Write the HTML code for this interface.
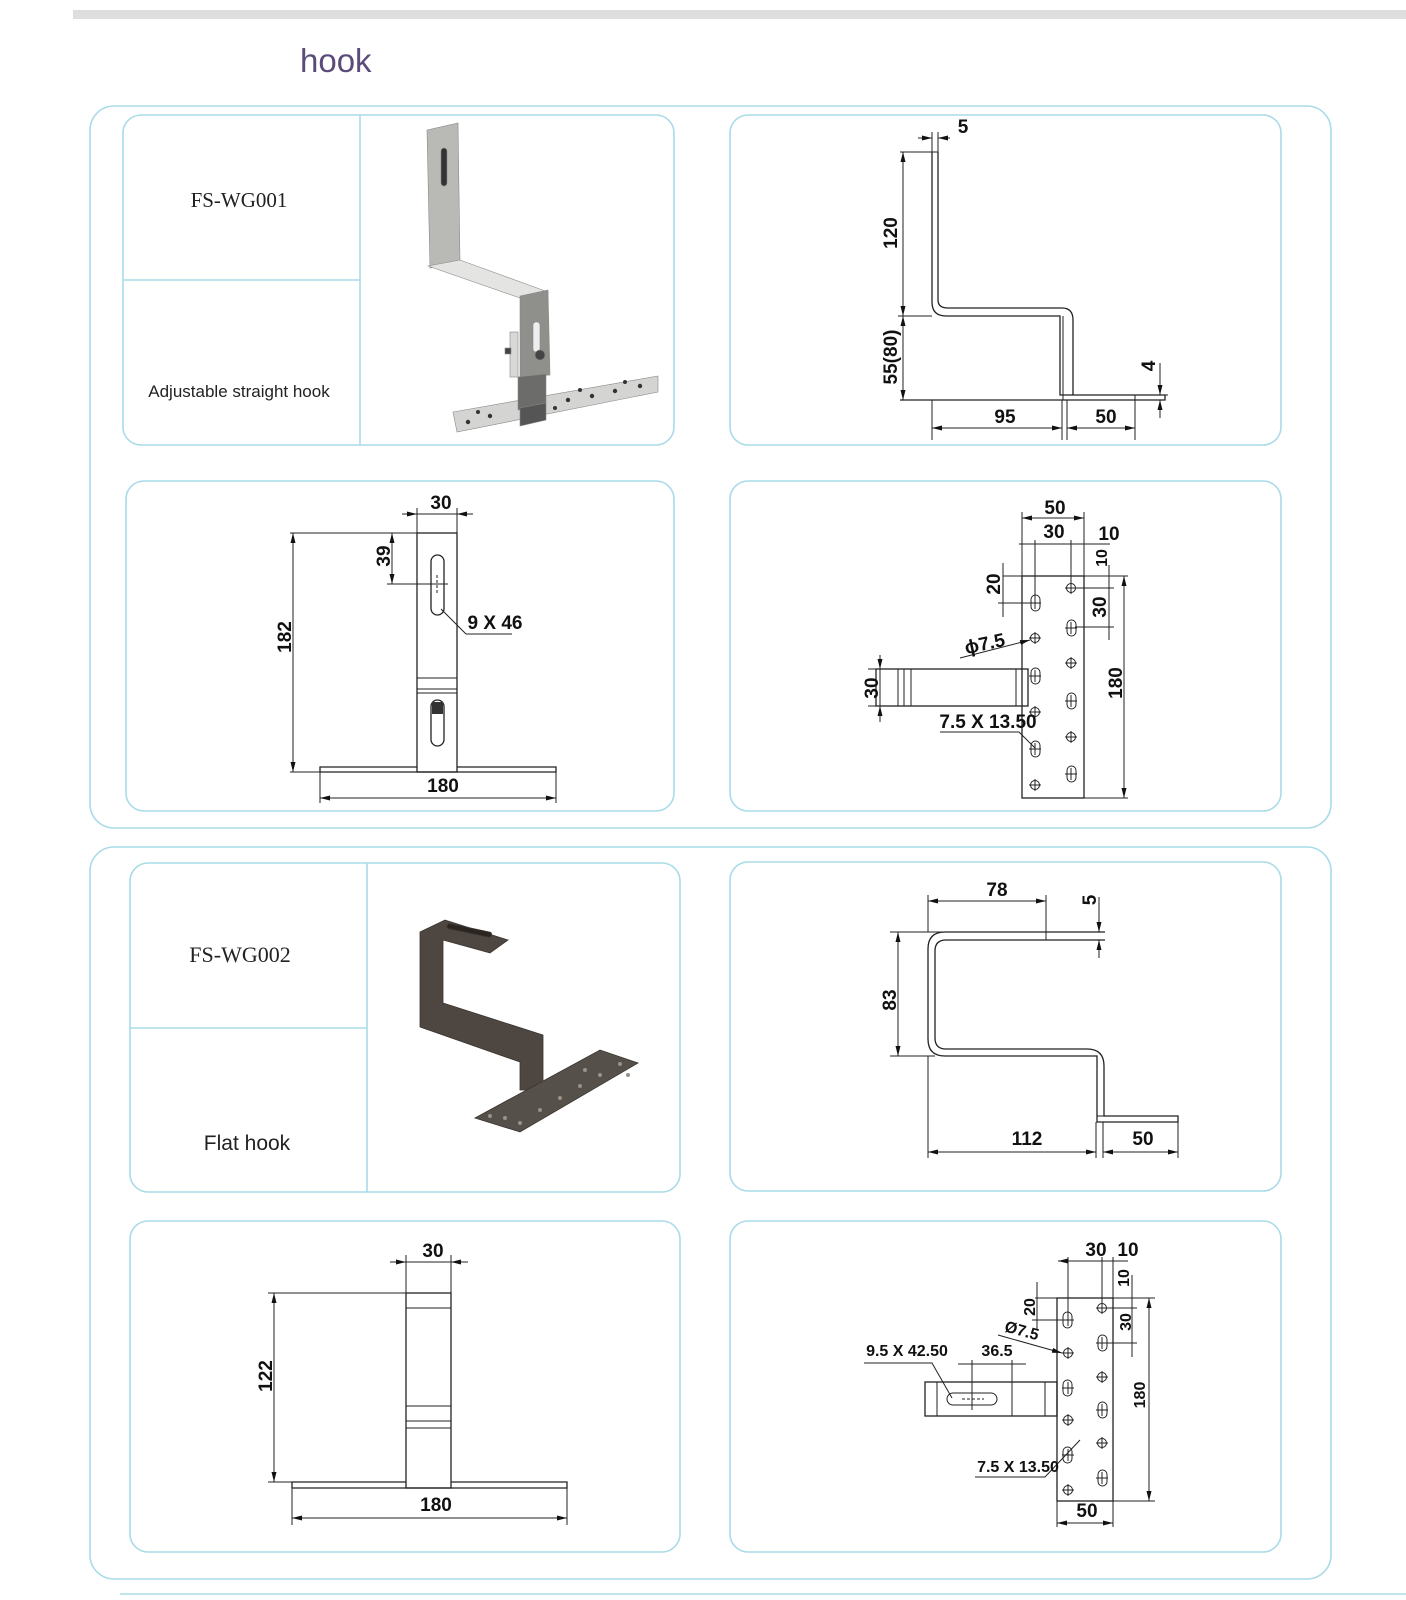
<!DOCTYPE html>
<html><head><meta charset="utf-8"><style>
html,body{margin:0;padding:0;background:#fff;}
svg{display:block;}
.b{fill:none;stroke:#a9dbe8;stroke-width:1.6;}
.l{stroke:#222;stroke-width:1;fill:none;}
.p{stroke:#222;stroke-width:1.3;fill:none;}
.t{font-family:"Liberation Sans",sans-serif;font-weight:bold;font-size:19px;fill:#111;}
.s{font-family:"Liberation Sans",sans-serif;font-weight:bold;font-size:16px;fill:#111;}
</style></head><body>
<svg width="1406" height="1600" viewBox="0 0 1406 1600" xmlns="http://www.w3.org/2000/svg">
<defs>
<marker id="a" viewBox="0 0 10 6" refX="10" refY="3" markerWidth="10" markerHeight="6" orient="auto-start-reverse" markerUnits="userSpaceOnUse"><path d="M0,0.5L10,3L0,5.5z" fill="#111"/></marker>
</defs>
<rect x="73" y="10" width="1333" height="9" fill="#dedede"/>
<text x="300" y="72" font-family="Liberation Sans,sans-serif" font-size="33" fill="#5b4b7a">hook</text>

<rect class="b" x="90" y="106" width="1241" height="722" rx="24"/>
<rect class="b" x="90" y="847" width="1241" height="732" rx="24"/>
<line x1="120" y1="1594" x2="1406" y2="1594" stroke="#a9dbe8" stroke-width="1.6"/>

<rect class="b" x="123" y="115" width="551" height="330" rx="18"/>
<line class="b" x1="360" y1="115" x2="360" y2="445"/>
<line class="b" x1="123" y1="280" x2="360" y2="280"/>
<rect class="b" x="730" y="115" width="551" height="330" rx="18"/>
<rect class="b" x="126" y="481" width="548" height="330" rx="18"/>
<rect class="b" x="730" y="481" width="551" height="330" rx="18"/>
<text x="239" y="207" text-anchor="middle" font-family="Liberation Serif,serif" font-size="21" fill="#222">FS-WG001</text>
<text x="239" y="397" text-anchor="middle" font-family="Liberation Sans,sans-serif" font-size="17" fill="#222">Adjustable straight hook</text>

<rect class="b" x="130" y="863" width="550" height="329" rx="18"/>
<line class="b" x1="367" y1="863" x2="367" y2="1192"/>
<line class="b" x1="130" y1="1028" x2="367" y2="1028"/>
<rect class="b" x="730" y="862" width="551" height="329" rx="18"/>
<rect class="b" x="130" y="1221" width="550" height="331" rx="18"/>
<rect class="b" x="730" y="1221" width="551" height="331" rx="18"/>
<text x="240" y="962" text-anchor="middle" font-family="Liberation Serif,serif" font-size="22" fill="#222">FS-WG002</text>
<text x="247" y="1150" text-anchor="middle" font-family="Liberation Sans,sans-serif" font-size="21" fill="#222">Flat hook</text>

<!-- photo 1 -->
<g stroke="#888" stroke-width="0.6">
<polygon points="427,130 458,123 460,262 430,268" fill="#b9b9b6"/>
<rect x="441" y="148" width="6" height="38" rx="3" fill="#333"/>
<polygon points="428,266 460,260 548,292 520,298" fill="#e4e4e2"/>
<polygon points="520,296 548,290 550,375 520,377" fill="#8f8f8c"/>
<rect x="533" y="322" width="7" height="30" rx="3" fill="#eee"/>
<circle cx="540" cy="355" r="5" fill="#444"/>
<rect x="510" y="332" width="8" height="45" fill="#d8d8d6"/>
<rect x="505" y="348" width="6" height="6" fill="#444"/>
<polygon points="453,412 658,376 658,392 457,432" fill="#d4d4d2"/>
<polygon points="518,377 546,374 546,405 518,410" fill="#6c6c6a"/>
<polygon points="520,408 546,403 546,420 520,426" fill="#555"/>
</g>
<g fill="#333"><circle cx="468" cy="422" r="2.2"/><circle cx="490" cy="416" r="2.2"/><circle cx="478" cy="412" r="2"/><circle cx="568" cy="400" r="2.2"/><circle cx="592" cy="396" r="2.2"/><circle cx="615" cy="391" r="2.2"/><circle cx="640" cy="386" r="2.2"/><circle cx="580" cy="390" r="2"/><circle cx="625" cy="382" r="2"/><circle cx="555" cy="408" r="2"/></g>

<!-- photo 2 -->
<g fill="#4d4641" stroke="#3a3430" stroke-width="0.8">
<polygon points="420,932 445,920 508,940 490,953 443,940 443,1003 543,1035 543,1090 520,1090 520,1062 420,1027"/>
<polygon points="475,1118 600,1050 638,1063 520,1132" fill="#56504a"/>
<rect x="447" y="928" width="45" height="5" rx="2" fill="#2a2520" transform="rotate(12 470 930)"/>
</g>
<g fill="#9a928a"><circle cx="490" cy="1116" r="2"/><circle cx="505" cy="1118" r="2"/><circle cx="520" cy="1123" r="2"/><circle cx="540" cy="1110" r="2"/><circle cx="560" cy="1098" r="2"/><circle cx="580" cy="1086" r="2"/><circle cx="600" cy="1075" r="2"/><circle cx="620" cy="1064" r="2"/><circle cx="628" cy="1075" r="2"/><circle cx="585" cy="1070" r="2"/></g>

<!-- TR1 -->
<path class="p" d="M932,152 V302 Q932,316 946,316 H1060 V395 H1165 V400 H900"/>
<path class="p" d="M938,152 V300 Q938,308 948,308 H1062 Q1073,308 1073,320 V395"/>
<line class="l" x1="932" y1="152" x2="938" y2="152"/>
<line class="l" x1="1063" y1="316" x2="1063" y2="400"/>
<line class="l" x1="900" y1="152" x2="932" y2="152"/>
<line class="l" x1="898" y1="316" x2="932" y2="316"/>
<line class="l" x1="903" y1="152" x2="903" y2="316" marker-start="url(#a)" marker-end="url(#a)"/>
<line class="l" x1="903" y1="316" x2="903" y2="400" marker-start="url(#a)" marker-end="url(#a)"/>
<line class="l" x1="918" y1="138" x2="932" y2="138" marker-end="url(#a)"/>
<line class="l" x1="950" y1="138" x2="938" y2="138" marker-end="url(#a)"/>
<line class="l" x1="932" y1="132" x2="932" y2="152"/><line class="l" x1="938" y1="132" x2="938" y2="152"/>
<text class="t" x="963" y="133" text-anchor="middle">5</text>
<text class="t" transform="translate(897,233) rotate(-90)" text-anchor="middle">120</text>
<text class="t" transform="translate(897,357) rotate(-90)" text-anchor="middle" font-size="17">55(80)</text>
<line class="l" x1="932" y1="400" x2="932" y2="440"/><line class="l" x1="1062" y1="400" x2="1062" y2="440"/><line class="l" x1="1067" y1="400" x2="1067" y2="440"/><line class="l" x1="1135" y1="395" x2="1135" y2="440"/>
<line class="l" x1="932" y1="428" x2="1062" y2="428" marker-start="url(#a)" marker-end="url(#a)"/>
<line class="l" x1="1067" y1="428" x2="1135" y2="428" marker-start="url(#a)" marker-end="url(#a)"/>
<text class="t" x="1005" y="423" text-anchor="middle">95</text>
<text class="t" x="1106" y="423" text-anchor="middle">50</text>
<line class="l" x1="1160" y1="363" x2="1160" y2="395" marker-end="url(#a)"/>
<line class="l" x1="1160" y1="418" x2="1160" y2="400" marker-end="url(#a)"/>
<line class="l" x1="1165" y1="395" x2="1168" y2="395"/>
<text class="t" transform="translate(1155,366) rotate(-90)" text-anchor="middle">4</text>

<!-- BL1 -->
<rect class="p" x="417" y="533" width="40" height="239"/>
<line class="l" x1="417" y1="678" x2="457" y2="678"/><line class="l" x1="417" y1="689" x2="457" y2="689"/><line class="l" x1="417" y1="693" x2="457" y2="693"/>
<rect class="p" x="431" y="555" width="13" height="60" rx="6.5"/>
<line class="l" x1="437" y1="575" x2="437" y2="595" stroke-dasharray="3,2"/><line class="l" x1="432" y1="584" x2="442" y2="584"/>
<rect class="p" x="431" y="700" width="13" height="46" rx="6.5"/>
<rect x="432" y="702" width="11" height="12" fill="#333"/>
<polyline class="p" points="320,772 320,767 417,767"/><polyline class="p" points="457,767 556,767 556,772 320,772"/>
<line class="l" x1="290" y1="533" x2="417" y2="533"/><line class="l" x1="290" y1="772" x2="320" y2="772"/>
<line class="l" x1="293" y1="533" x2="293" y2="772" marker-start="url(#a)" marker-end="url(#a)"/>
<text class="t" transform="translate(291,637) rotate(-90)" text-anchor="middle">182</text>
<line class="l" x1="392" y1="533" x2="392" y2="584" marker-start="url(#a)" marker-end="url(#a)"/>
<line class="l" x1="387" y1="584" x2="448" y2="584"/>
<text class="t" transform="translate(390,556) rotate(-90)" text-anchor="middle">39</text>
<line class="l" x1="417" y1="508" x2="417" y2="533"/><line class="l" x1="457" y1="508" x2="457" y2="533"/>
<line class="l" x1="402" y1="514" x2="417" y2="514" marker-end="url(#a)"/><line class="l" x1="473" y1="514" x2="457" y2="514" marker-end="url(#a)"/><line class="l" x1="417" y1="514" x2="457" y2="514"/>
<text class="t" x="441" y="509" text-anchor="middle">30</text>
<polyline class="l" points="441,609 466,634 512,634"/>
<text class="t" x="495" y="629" text-anchor="middle">9 X 46</text>
<line class="l" x1="320" y1="772" x2="320" y2="803"/><line class="l" x1="556" y1="772" x2="556" y2="803"/>
<line class="l" x1="320" y1="798" x2="556" y2="798" marker-start="url(#a)" marker-end="url(#a)"/>
<text class="t" x="443" y="792" text-anchor="middle">180</text>

<!-- BR1 -->
<rect class="p" x="1022" y="576" width="62" height="222"/>
<rect class="p" x="876" y="669" width="152" height="37"/>
<line class="l" x1="898" y1="669" x2="898" y2="706"/><line class="l" x1="904" y1="669" x2="904" y2="706"/><line class="l" x1="911" y1="669" x2="911" y2="706"/><line class="l" x1="1016" y1="669" x2="1016" y2="706"/>
<g class="l">
<rect x="1031" y="595" width="9" height="16" rx="4.5"/><rect x="1031" y="668" width="9" height="16" rx="4.5"/><rect x="1031" y="741" width="9" height="16" rx="4.5"/>
<circle cx="1035" cy="638" r="4.5"/><circle cx="1035" cy="712" r="4.5"/><circle cx="1035" cy="785" r="4.5"/>
<circle cx="1071" cy="588" r="4.5"/><circle cx="1071" cy="663" r="4.5"/><circle cx="1071" cy="737" r="4.5"/>
<rect x="1067" y="620" width="9" height="16" rx="4.5"/><rect x="1067" y="693" width="9" height="16" rx="4.5"/><rect x="1067" y="766" width="9" height="16" rx="4.5"/>
<path d="M1029,603h12M1035,597v12M1029,638h12M1035,632v12M1029,676h12M1035,670v12M1029,712h12M1035,706v12M1029,749h12M1035,743v12M1029,785h12M1035,779v12M1065,588h12M1071,582v12M1065,628h12M1071,622v12M1065,663h12M1071,657v12M1065,701h12M1071,695v12M1065,737h12M1071,731v12M1065,774h12M1071,768v12"/>
</g>
<line class="l" x1="1022" y1="512" x2="1022" y2="576"/><line class="l" x1="1084" y1="512" x2="1084" y2="576"/>
<line class="l" x1="1022" y1="518" x2="1084" y2="518" marker-start="url(#a)" marker-end="url(#a)"/>
<text class="t" x="1055" y="514" text-anchor="middle">50</text>
<line class="l" x1="1035" y1="540" x2="1035" y2="603"/><line class="l" x1="1071" y1="540" x2="1071" y2="588"/>
<line class="l" x1="1019" y1="544" x2="1110" y2="544"/>
<text class="t" x="1054" y="538" text-anchor="middle">30</text>
<text class="t" x="1109" y="540" text-anchor="middle">10</text>
<text class="s" transform="translate(1107,558) rotate(-90)" text-anchor="middle">10</text>
<line class="l" x1="1003" y1="563" x2="1003" y2="617"/><line class="l" x1="998" y1="603" x2="1030" y2="603"/>
<text class="t" transform="translate(1000,584) rotate(-90)" text-anchor="middle" font-size="17">20</text>
<line class="l" x1="1109" y1="565" x2="1109" y2="640"/><line class="l" x1="1075" y1="588" x2="1114" y2="588"/><line class="l" x1="1075" y1="627" x2="1114" y2="627"/>
<text class="t" transform="translate(1106,607) rotate(-90)" text-anchor="middle" font-size="17">30</text>
<line class="l" x1="1003" y1="576" x2="1128" y2="576"/><line class="l" x1="1084" y1="798" x2="1128" y2="798"/>
<line class="l" x1="1124" y1="576" x2="1124" y2="798" marker-start="url(#a)" marker-end="url(#a)"/>
<text class="t" transform="translate(1122,683) rotate(-90)" text-anchor="middle">180</text>
<line class="l" x1="960" y1="658" x2="1030" y2="640" marker-end="url(#a)"/>
<text class="t" x="985" y="650" text-anchor="middle" transform="rotate(-12 985 645)">ϕ7.5</text>
<line class="l" x1="868" y1="669" x2="884" y2="669"/><line class="l" x1="868" y1="706" x2="884" y2="706"/>
<line class="l" x1="880" y1="655" x2="880" y2="669" marker-end="url(#a)"/><line class="l" x1="880" y1="722" x2="880" y2="706" marker-end="url(#a)"/><line class="l" x1="880" y1="669" x2="880" y2="706"/>
<text class="t" transform="translate(878,688) rotate(-90)" text-anchor="middle">30</text>
<polyline class="l" points="940,732 1019,732 1035,748"/>
<text class="t" x="988" y="728" text-anchor="middle">7.5 X 13.50</text>

<!-- TR2 -->
<path class="p" d="M1105,932 H945 Q928,932 928,949 V1039 Q928,1056 945,1056 H1097 V1122 H1178 V1116 H1104 V1066 Q1104,1049 1087,1049 H946 Q935,1049 935,1038 V951 Q935,940 946,940 H1105"/>
<line class="l" x1="1104" y1="1116" x2="1097" y2="1116"/>
<line class="l" x1="890" y1="932" x2="1105" y2="932"/><line class="l" x1="890" y1="1056" x2="935" y2="1056"/>
<line class="l" x1="898" y1="932" x2="898" y2="1056" marker-start="url(#a)" marker-end="url(#a)"/>
<text class="t" transform="translate(896,1000) rotate(-90)" text-anchor="middle" font-size="21">83</text>
<line class="l" x1="928" y1="895" x2="928" y2="932"/><line class="l" x1="1046" y1="895" x2="1046" y2="940"/>
<line class="l" x1="928" y1="901" x2="1046" y2="901" marker-start="url(#a)" marker-end="url(#a)"/>
<text class="t" x="997" y="896" text-anchor="middle" font-size="21">78</text>
<line class="l" x1="1099" y1="897" x2="1099" y2="932" marker-end="url(#a)"/><line class="l" x1="1099" y1="958" x2="1099" y2="940" marker-end="url(#a)"/>
<text class="t" transform="translate(1096,900) rotate(-90)" text-anchor="middle">5</text>
<line class="l" x1="928" y1="1056" x2="928" y2="1158"/><line class="l" x1="1096" y1="1122" x2="1096" y2="1158"/><line class="l" x1="1103" y1="1122" x2="1103" y2="1158"/><line class="l" x1="1178" y1="1122" x2="1178" y2="1158"/>
<line class="l" x1="928" y1="1152" x2="1096" y2="1152" marker-start="url(#a)" marker-end="url(#a)"/>
<line class="l" x1="1103" y1="1152" x2="1178" y2="1152" marker-start="url(#a)" marker-end="url(#a)"/>
<text class="t" x="1027" y="1145" text-anchor="middle" font-size="21">112</text>
<text class="t" x="1143" y="1145" text-anchor="middle" font-size="21">50</text>

<!-- BL2 -->
<rect class="p" x="406" y="1293" width="45" height="195"/>
<line class="l" x1="406" y1="1308" x2="451" y2="1308"/><line class="l" x1="406" y1="1406" x2="451" y2="1406"/><line class="l" x1="406" y1="1421" x2="451" y2="1421"/><line class="l" x1="406" y1="1428" x2="451" y2="1428"/>
<polyline class="p" points="292,1488 292,1482 406,1482"/><polyline class="p" points="451,1482 567,1482 567,1488 292,1488"/>
<line class="l" x1="268" y1="1293" x2="406" y2="1293"/><line class="l" x1="268" y1="1482" x2="292" y2="1482"/>
<line class="l" x1="274" y1="1293" x2="274" y2="1482" marker-start="url(#a)" marker-end="url(#a)"/>
<text class="t" transform="translate(272,1376) rotate(-90)" text-anchor="middle" font-size="23">122</text>
<line class="l" x1="406" y1="1255" x2="406" y2="1293"/><line class="l" x1="451" y1="1255" x2="451" y2="1293"/>
<line class="l" x1="390" y1="1262" x2="406" y2="1262" marker-end="url(#a)"/><line class="l" x1="468" y1="1262" x2="451" y2="1262" marker-end="url(#a)"/><line class="l" x1="406" y1="1262" x2="451" y2="1262"/>
<text class="t" x="433" y="1257" text-anchor="middle" font-size="22">30</text>
<line class="l" x1="292" y1="1488" x2="292" y2="1525"/><line class="l" x1="567" y1="1488" x2="567" y2="1525"/>
<line class="l" x1="292" y1="1518" x2="567" y2="1518" marker-start="url(#a)" marker-end="url(#a)"/>
<text class="t" x="436" y="1511" text-anchor="middle" font-size="22">180</text>

<!-- BR2 -->
<rect class="p" x="1057" y="1298" width="56" height="203"/>
<rect class="p" x="925" y="1382" width="132" height="34"/>
<line class="l" x1="937" y1="1382" x2="937" y2="1416"/><line class="l" x1="1045" y1="1382" x2="1045" y2="1416"/><line class="l" x1="1012" y1="1360" x2="1012" y2="1416"/><line class="l" x1="972" y1="1360" x2="972" y2="1410"/>
<rect class="l" x="947" y="1393" width="50" height="12" rx="6"/>
<line class="l" x1="962" y1="1399" x2="984" y2="1399" stroke-dasharray="3,2"/>
<g class="l">
<rect x="1063" y="1312" width="9" height="16" rx="4.5"/><rect x="1063" y="1380" width="9" height="16" rx="4.5"/><rect x="1063" y="1447" width="9" height="16" rx="4.5"/>
<circle cx="1068" cy="1353" r="4.5"/><circle cx="1068" cy="1420" r="4.5"/><circle cx="1068" cy="1490" r="4.5"/>
<circle cx="1102" cy="1308" r="4.5"/><circle cx="1102" cy="1377" r="4.5"/><circle cx="1102" cy="1443" r="4.5"/>
<rect x="1098" y="1335" width="9" height="16" rx="4.5"/><rect x="1098" y="1402" width="9" height="16" rx="4.5"/><rect x="1098" y="1470" width="9" height="16" rx="4.5"/>
<path d="M1062,1320h12M1068,1314v12M1062,1353h12M1068,1347v12M1062,1388h12M1068,1382v12M1062,1420h12M1068,1414v12M1062,1455h12M1068,1449v12M1062,1490h12M1068,1484v12M1096,1308h12M1102,1302v12M1096,1343h12M1102,1337v12M1096,1377h12M1102,1371v12M1096,1410h12M1102,1404v12M1096,1443h12M1102,1437v12M1096,1478h12M1102,1472v12"/>
</g>
<line class="l" x1="1068" y1="1257" x2="1068" y2="1320"/><line class="l" x1="1102" y1="1257" x2="1102" y2="1308"/><line class="l" x1="1113" y1="1257" x2="1113" y2="1298"/>
<line class="l" x1="1058" y1="1261" x2="1128" y2="1261" marker-start="url(#a)"/>
<text class="t" x="1096" y="1256" text-anchor="middle" font-size="16">30</text>
<text class="t" x="1128" y="1256" text-anchor="middle" font-size="16">10</text>
<text class="s" transform="translate(1129,1278) rotate(-90)" text-anchor="middle" font-size="15">10</text>
<line class="l" x1="1037" y1="1282" x2="1037" y2="1330"/><line class="l" x1="1032" y1="1320" x2="1062" y2="1320"/>
<text class="s" transform="translate(1035,1307) rotate(-90)" text-anchor="middle">20</text>
<line class="l" x1="1132" y1="1275" x2="1132" y2="1357"/><line class="l" x1="1105" y1="1308" x2="1137" y2="1308"/><line class="l" x1="1105" y1="1343" x2="1137" y2="1343"/>
<text class="s" transform="translate(1131,1322) rotate(-90)" text-anchor="middle">30</text>
<line class="l" x1="1035" y1="1298" x2="1155" y2="1298"/><line class="l" x1="1057" y1="1501" x2="1155" y2="1501"/>
<line class="l" x1="1149" y1="1298" x2="1149" y2="1501" marker-start="url(#a)" marker-end="url(#a)"/>
<text class="s" transform="translate(1145,1395) rotate(-90)" text-anchor="middle">180</text>
<line class="l" x1="1057" y1="1501" x2="1057" y2="1527"/><line class="l" x1="1113" y1="1501" x2="1113" y2="1527"/>
<line class="l" x1="1057" y1="1523" x2="1113" y2="1523" marker-start="url(#a)" marker-end="url(#a)"/>
<text class="t" x="1087" y="1517" text-anchor="middle" font-size="17">50</text>
<line class="l" x1="998" y1="1335" x2="1062" y2="1353" marker-end="url(#a)"/>
<text class="s" x="1022" y="1336" text-anchor="middle" transform="rotate(15 1022 1330)">Ø7.5</text>
<polyline class="l" points="864,1363 932,1363 952,1398"/>
<text class="s" x="907" y="1356" text-anchor="middle">9.5 X 42.50</text>
<line class="l" x1="958" y1="1364" x2="1026" y2="1364"/>
<text class="s" x="997" y="1356" text-anchor="middle">36.5</text>
<polyline class="l" points="975,1477 1045,1477 1080,1440"/>
<text class="s" x="1018" y="1472" text-anchor="middle">7.5 X 13.50</text>
</svg>
</body></html>
